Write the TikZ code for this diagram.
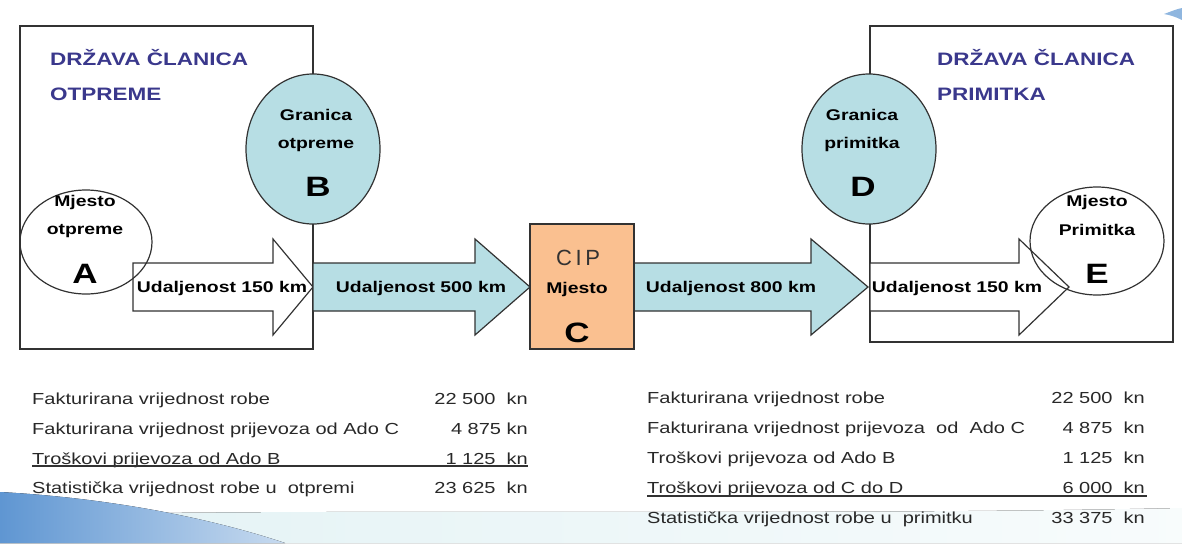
\documentclass[tikz,border=0pt]{standalone}
\usepackage{fontspec}
\setmainfont[FakeStretch=1.25]{Liberation Sans}
\newfontfamily\cipfont{Liberation Sans}
\definecolor{titleblue}{RGB}{58,56,140}
\definecolor{aqua}{RGB}{183,222,228}
\definecolor{peach}{RGB}{250,192,144}
\definecolor{edge}{RGB}{50,50,50}
\definecolor{tabletext}{RGB}{40,40,40}
\definecolor{swoosh}{RGB}{95,150,210}

\begin{document}
\begin{tikzpicture}[x=1pt,y=1pt]
        \tikzstyle{every node}+=[inner sep=0pt]
        \tikzstyle{statetitle}=[anchor=base west, text=titleblue, font=\bfseries\fontsize{18}{20}\selectfont]
        \tikzstyle{boldtext}=[anchor=base, font=\bfseries\fontsize{15.5}{17}\selectfont]
        \tikzstyle{bigletter}=[anchor=base, font=\bfseries\fontsize{28}{30}\selectfont]
        \tikzstyle{rowtext}=[anchor=base west, text=tabletext, font=\fontsize{16}{18}\selectfont]
        \tikzstyle{rowvalue}=[anchor=base east, text=tabletext, font=\fontsize{16}{18}\selectfont]
        \tikzstyle{edgeline}=[draw=edge, line width=1.2pt]
        \useasboundingbox (0,0) rectangle (1182,-543);
        % slide background
        \fill [left color=aqua!40, right color=aqua!10] (0,-515) .. controls (400,-508) and (800,-516) .. (1182,-508) -- (1182,-543) -- (0,-543) -- cycle;
        \fill [left color=swoosh, right color=swoosh!35] (0,-492) .. controls (110,-498) and (210,-518) .. (285,-543) -- (0,-543) -- cycle;
        \fill [swoosh!70] (1164,-14) .. controls (1172,-11) and (1177,-9) .. (1182,-8) -- (1182,-20) .. controls (1176,-17) and (1170,-15) .. (1164,-14) -- cycle;
        % member states
        \draw [edgeline] (20,-26) rectangle (313,-349);
        \draw [edgeline] (870,-26) rectangle (1173,-342);
        \draw (50,-66) node [statetitle] (otpT1) {DRŽAVA ČLANICA};
        \draw (50,-100) node [statetitle] (otpT2) {OTPREME};
        \draw (937,-66) node [statetitle] (primT1) {DRŽAVA ČLANICA};
        \draw (937,-100) node [statetitle] (primT2) {PRIMITKA};
        % distances
        \draw [edgeline, fill=white] (133,-263) -- (273,-263) -- (273,-239) -- (313,-287) -- (273,-335) -- (273,-311) -- (133,-311) -- cycle;
        \draw [edgeline, fill=aqua] (313,-263) -- (475,-263) -- (475,-239) -- (530,-287) -- (475,-335) -- (475,-311) -- (313,-311) -- cycle;
        \draw [edgeline, fill=aqua] (634,-263) -- (811,-263) -- (811,-239) -- (868,-287) -- (811,-335) -- (811,-311) -- (634,-311) -- cycle;
        \draw [edgeline, fill=white] (870,-263) -- (1019,-263) -- (1019,-239) -- (1069,-287) -- (1019,-335) -- (1019,-311) -- (870,-311) -- cycle;
        \draw (222,-292) node [boldtext] (dAB) {Udaljenost 150 km};
        \draw (421,-292) node [boldtext] (dBC) {Udaljenost 500 km};
        \draw (731,-292) node [boldtext] (dCD) {Udaljenost 800 km};
        \draw (957,-292) node [boldtext] (dDE) {Udaljenost 150 km};
        % CIP place
        \draw [edgeline, fill=peach] (530,-224) rectangle (634,-349);
        \draw (578,-265) node [anchor=base, text=edge, font=\cipfont\fontsize{22}{24}\selectfont] (cip) {C\,I\,P};
        \draw (577,-293) node [boldtext] (cM) {Mjesto};
        \draw (577,-342) node [bigletter] (cC) {C};
        % places and borders
        \draw [edgeline, fill=aqua] (313,-149) ellipse (67pt and 75pt);
        \draw [edgeline, fill=aqua] (869,-149) ellipse (67pt and 75pt);
        \draw [edgeline] (86,-242) ellipse (66pt and 52pt);
        \draw [edgeline] (1097,-241) ellipse (67pt and 54pt);
        \draw (85,-206) node [boldtext] (aM) {Mjesto};
        \draw (85,-234) node [boldtext] (aO) {otpreme};
        \draw (85,-283) node [bigletter] (aA) {A};
        \draw (316,-120) node [boldtext] (bG) {Granica};
        \draw (316,-148) node [boldtext] (bO) {otpreme};
        \draw (318,-196) node [bigletter] (bB) {B};
        \draw (862,-120) node [boldtext] (dG) {Granica};
        \draw (862,-148) node [boldtext] (dP) {primitka};
        \draw (863,-196) node [bigletter] (dD) {D};
        \draw (1097,-206) node [boldtext] (eM) {Mjesto};
        \draw (1097,-235) node [boldtext] (eP) {Primitka};
        \draw (1097,-283) node [bigletter] (eE) {E};
        % values in dispatch
        \draw (32,-404) node [rowtext] (l1) {Fakturirana vrijednost robe};
        \draw (32,-434) node [rowtext] (l2) {Fakturirana vrijednost prijevoza od Ado C};
        \draw (32,-464) node [rowtext] (l3) {Troškovi prijevoza od Ado B};
        \draw (32,-493) node [rowtext] (l4) {Statistička vrijednost robe u \ otpremi};
        \draw (528,-404) node [rowvalue] (lv1) {22 500 \ kn};
        \draw (528,-434) node [rowvalue] (lv2) {4 875 kn};
        \draw (528,-464) node [rowvalue] (lv3) {1 125 \ kn};
        \draw (528,-493) node [rowvalue] (lv4) {23 625 \ kn};
        \draw [edge, line width=1.5pt] (32,-466) -- (528,-466);
        % values in arrival
        \draw (647,-403) node [rowtext] (r1) {Fakturirana vrijednost robe};
        \draw (647,-433) node [rowtext] (r2) {Fakturirana vrijednost prijevoza \ od \ Ado C};
        \draw (647,-463) node [rowtext] (r3) {Troškovi prijevoza od Ado B};
        \draw (647,-493) node [rowtext] (r4) {Troškovi prijevoza od C do D};
        \draw (647,-523) node [rowtext] (r5) {Statistička vrijednost robe u \ primitku};
        \draw (1145,-403) node [rowvalue] (rv1) {22 500 \ kn};
        \draw (1145,-433) node [rowvalue] (rv2) {4 875 \ kn};
        \draw (1145,-463) node [rowvalue] (rv3) {1 125 \ kn};
        \draw (1145,-493) node [rowvalue] (rv4) {6 000 \ kn};
        \draw (1145,-523) node [rowvalue] (rv5) {33 375 \ kn};
        \draw [edge, line width=1.5pt] (647,-496) -- (1147,-496);
\end{tikzpicture}
\end{document}
